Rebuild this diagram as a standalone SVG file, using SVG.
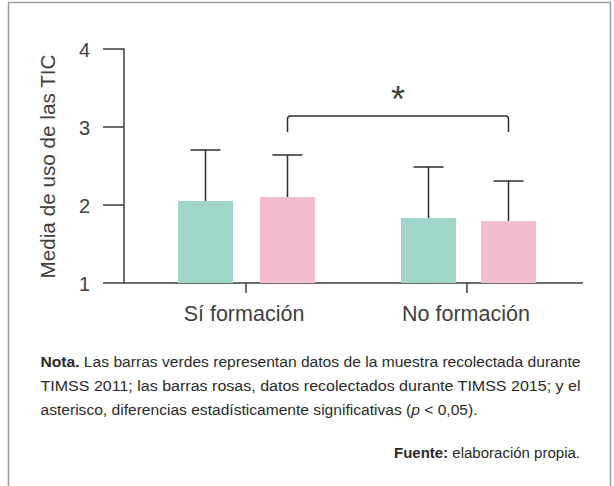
<svg xmlns="http://www.w3.org/2000/svg" width="614" height="486" viewBox="0 0 614 486">
<style>
text{font-family:"Liberation Sans",Arial,sans-serif;fill:#404040}
.ax{stroke:#3c3c3c;stroke-width:1.5;fill:none}
.eb{stroke:#2e2e2e;stroke-width:1.5;fill:none}
.tick{font-size:20px;text-anchor:end}
.cat{font-size:21.5px;text-anchor:middle}
.g{fill:#9ed7c7}
.p{fill:#f3bccf}
.note{font-size:15.5px;fill:#2a2a2a}
.b{font-weight:bold}
</style>
<rect x="8.5" y="2.5" width="602" height="500" fill="#fff" stroke="#9a9a9a" stroke-width="1.5"/>
<g id="axes">
<path class="ax" d="M124 48.5V283M103 283H583M103 49H124M103 127H124M103 205H124M246 283V293M467 283V293"/>
<text class="tick" x="90" y="57">4</text>
<text class="tick" x="90" y="135">3</text>
<text class="tick" x="90" y="212.5">2</text>
<text class="tick" x="90" y="290.5">1</text>
<text x="0" y="0" font-size="21" text-anchor="middle" textLength="224" lengthAdjust="spacingAndGlyphs" transform="translate(55,166.5) rotate(-90)">Media de uso de las TIC</text>
<text class="cat" x="244" y="321">Sí formación</text>
<text class="cat" x="466" y="321">No formación</text>
</g>
<g id="bar-si-2011">
<rect class="g" x="178" y="201" width="55" height="82"/>
<path class="eb" d="M205.5 201V150M190.5 150H220.5"/>
</g>
<g id="bar-si-2015">
<rect class="p" x="260" y="197" width="55" height="86"/>
<path class="eb" d="M287.5 197V155M272.5 155H302.5"/>
</g>
<g id="bar-no-2011">
<rect class="g" x="401" y="218" width="55" height="65"/>
<path class="eb" d="M428.5 218V167M413.5 167H443.5"/>
</g>
<g id="bar-no-2015">
<rect class="p" x="481" y="221" width="55" height="62"/>
<path class="eb" d="M508.5 221V181M493.5 181H523.5"/>
</g>
<g id="connectors">
<path class="eb" d="M287.5 132V119Q287.5 116 290.5 116H505.5Q508.5 116 508.5 119V132"/>
<text x="398" y="112" font-size="36" text-anchor="middle">*</text>
</g>
<g id="note">
<text class="note" x="40.5" y="367" textLength="540" lengthAdjust="spacingAndGlyphs"><tspan class="b">Nota.</tspan> Las barras verdes representan datos de la muestra recolectada durante</text>
<text class="note" x="40.5" y="391" textLength="540" lengthAdjust="spacingAndGlyphs">TIMSS 2011; las barras rosas, datos recolectados durante TIMSS 2015; y el</text>
<text class="note" x="40.5" y="415" textLength="437" lengthAdjust="spacingAndGlyphs">asterisco, diferencias estadísticamente significativas (<tspan font-style="italic">p</tspan> &lt; 0,05).</text>
<text class="note" x="580" y="457.5" text-anchor="end" textLength="186" lengthAdjust="spacingAndGlyphs"><tspan class="b">Fuente:</tspan> elaboración propia.</text>
</g>
</svg>
